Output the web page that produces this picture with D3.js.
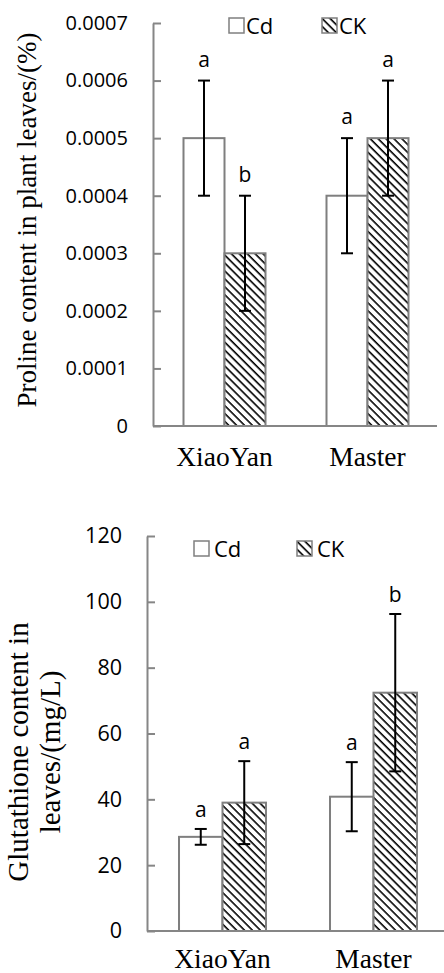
<!DOCTYPE html>
<html>
<head>
<meta charset="utf-8">
<script src="https://cdn.jsdelivr.net/npm/d3@7"></script>
<style>
    body { margin: 0; background: #fff; }
    svg { display: block; }
</style>
</head>
<body>
<svg id="chart"></svg>
<script>
// Values
const categories = ["XiaoYan", "Master"];
const seriesNames = ["Cd", "CK"];

const prolineCd = [0.0005, 0.0004];
const prolineCK = [0.0003, 0.0005];
const prolineCdErr = [0.0001, 0.0001];
const prolineCKErr = [0.0001, 0.0001];
const prolineCdLetters = ["a", "a"];
const prolineCKLetters = ["b", "a"];
const prolineTicks = [0, 0.0001, 0.0002, 0.0003, 0.0004, 0.0005, 0.0006, 0.0007];

const gshCd = [28.6, 40.8];
const gshCK = [39.0, 72.4];
const gshCdErr = [2.4, 10.5];
const gshCKErr = [12.6, 23.9];
const gshCdLetters = ["a", "a"];
const gshCKLetters = ["a", "b"];
const gshTicks = [0, 20, 40, 60, 80, 100, 120];

const W = 444, H = 973;
const axisGray = "#868686";
const barStroke = "#7f7f7f";
const sansFont = "'Open Sans', 'Noto Sans', sans-serif";
const serifFont = "'Liberation Serif', 'DejaVu Serif', serif";

const svg = d3.select("#chart").attr("width", W).attr("height", H);

// hatch used for the CK bars ("\" direction stripes)
svg.append("defs").append("pattern")
    .attr("id", "hatch")
    .attr("patternUnits", "userSpaceOnUse")
    .attr("width", 5.6)
    .attr("height", 5.6)
    .attr("patternTransform", "rotate(45)")
    .call(p => {
        p.append("rect").attr("width", 5.6).attr("height", 5.6).attr("fill", "#fff");
        p.append("rect").attr("width", 5.6).attr("height", 1.6).attr("fill", "#000");
    });

function panel(cfg) {
    const g = svg.append("g");

    const rows = categories.map((c, i) => ({
        cat: c,
        bars: [
            {name: "Cd", v: cfg.cd[i], e: cfg.cdErr[i], lab: cfg.cdLab[i]},
            {name: "CK", v: cfg.ck[i], e: cfg.ckErr[i], lab: cfg.ckLab[i]}
        ]
    }));

    const y = d3.scaleLinear().domain([0, d3.max(cfg.ticks)]).range([cfg.y0, cfg.y1]);
    const x = d3.scaleBand().domain(categories).range([cfg.x0, cfg.x1]).padding(0);
    const xs = d3.scaleBand().domain(seriesNames).range([0, x.bandwidth()])
        .paddingInner(0).paddingOuter(cfg.outerPad);

    // y axis: ticks drawn inward, labels to the left
    const yAxis = g.append("g")
        .attr("transform", `translate(${cfg.x0},0)`)
        .call(d3.axisLeft(y).tickValues(cfg.ticks).tickFormat(cfg.fmt)
            .tickSizeInner(-8).tickSizeOuter(0).tickPadding(cfg.tickPad));
    yAxis.select(".domain").attr("stroke", axisGray).attr("stroke-width", 2);
    yAxis.selectAll(".tick line").attr("stroke", axisGray).attr("stroke-width", 2);
    yAxis.selectAll(".tick text")
        .attr("fill", "#000")
        .style("font-family", sansFont)
        .style("font-size", cfg.tickSize + "px");

    // bars
    const groups = g.selectAll("g.grp")
        .data(rows)
        .join("g")
        .attr("class", "grp")
        .attr("transform", d => `translate(${x(d.cat)},0)`);

    groups.selectAll("rect")
        .data(d => d.bars)
        .join("rect")
        .attr("x", d => xs(d.name))
        .attr("y", d => y(d.v))
        .attr("width", xs.bandwidth())
        .attr("height", d => y(0) - y(d.v))
        .attr("fill", d => d.name === "CK" ? "url(#hatch)" : "#fff")
        .attr("stroke", barStroke)
        .attr("stroke-width", 2);

    // x axis line over the bar bottoms
    g.append("line")
        .attr("x1", cfg.x0).attr("x2", cfg.xLineEnd)
        .attr("y1", y(0)).attr("y2", y(0))
        .attr("stroke", axisGray).attr("stroke-width", 2);

    // error bars
    const err = groups.selectAll("g.err")
        .data(d => d.bars)
        .join("g")
        .attr("class", "err")
        .attr("transform", d => `translate(${xs(d.name) + xs.bandwidth() / 2},0)`);
    err.append("line")
        .attr("y1", d => y(d.v + d.e)).attr("y2", d => y(d.v - d.e))
        .attr("stroke", "#000").attr("stroke-width", 2);
    err.selectAll("line.cap")
        .data(d => [d.v + d.e, d.v - d.e])
        .join("line")
        .attr("class", "cap")
        .attr("x1", -6).attr("x2", 6)
        .attr("y1", d => y(d)).attr("y2", d => y(d))
        .attr("stroke", "#000").attr("stroke-width", 2);

    // significance letters
    err.append("text")
        .attr("y", d => y(d.v + d.e) - cfg.letterGap)
        .attr("text-anchor", "middle")
        .style("font-family", sansFont)
        .style("font-size", "21px")
        .text(d => d.lab);

    // category labels
    g.selectAll("text.cat")
        .data(categories)
        .join("text")
        .attr("class", "cat")
        .attr("x", d => x(d) + x.bandwidth() / 2)
        .attr("y", cfg.catY)
        .attr("text-anchor", "middle")
        .style("font-family", serifFont)
        .style("font-size", "27.5px")
        .text(d => d);

    // y title, possibly on several lines
    const title = g.append("text")
        .attr("transform", `translate(${cfg.titleX},${cfg.titleY}) rotate(-90)`)
        .attr("text-anchor", "middle")
        .style("font-family", serifFont)
        .style("font-size", cfg.titleSize + "px");
    title.selectAll("tspan")
        .data(cfg.title)
        .join("tspan")
        .attr("x", 0)
        .attr("dy", (d, i) => i === 0 ? 0 : cfg.titleLead)
        .text(d => d);

    // legend
    const leg = g.selectAll("g.leg")
        .data(seriesNames)
        .join("g")
        .attr("class", "leg")
        .attr("transform", (d, i) => `translate(${cfg.legX[i]},${cfg.legY})`);
    leg.append("rect")
        .attr("x", 0).attr("y", -15)
        .attr("width", 15).attr("height", 15)
        .attr("fill", d => d === "CK" ? "url(#hatch)" : "#fff")
        .attr("stroke", barStroke).attr("stroke-width", 1.5);
    leg.append("text")
        .attr("x", cfg.legTextDx).attr("y", 1)
        .style("font-family", sansFont)
        .style("font-size", "22px")
        .text(d => d);
}

panel({
    cd: prolineCd, ck: prolineCK, cdErr: prolineCdErr, ckErr: prolineCKErr,
    cdLab: prolineCdLetters, ckLab: prolineCKLetters, ticks: prolineTicks,
    fmt: d => d === 0 ? "0" : d3.format(".4f")(d),
    x0: 153, x1: 439, xLineEnd: 437, y0: 426, y1: 23, outerPad: 0.744,
    tickPad: 25, tickSize: 20, letterGap: 14, catY: 466,
    title: ["Proline content in plant leaves/(%)"], titleX: 36, titleY: 220,
    titleSize: 27, titleLead: 0,
    legX: [229, 322], legY: 33, legTextDx: 17
});

panel({
    cd: gshCd, ck: gshCK, cdErr: gshCdErr, ckErr: gshCKErr,
    cdLab: gshCdLetters, ckLab: gshCKLetters, ticks: gshTicks,
    fmt: d3.format("d"),
    x0: 147, x1: 449, xLineEnd: 449, y0: 931, y1: 536, outerPad: 0.736,
    tickPad: 25, tickSize: 21.5, letterGap: 12, catY: 968,
    title: ["Glutathione content in", "leaves/(mg/L)"], titleX: 28, titleY: 752,
    titleSize: 29, titleLead: 32,
    legX: [194, 297], legY: 556, legTextDx: 20
});
</script>
</body>
</html>
